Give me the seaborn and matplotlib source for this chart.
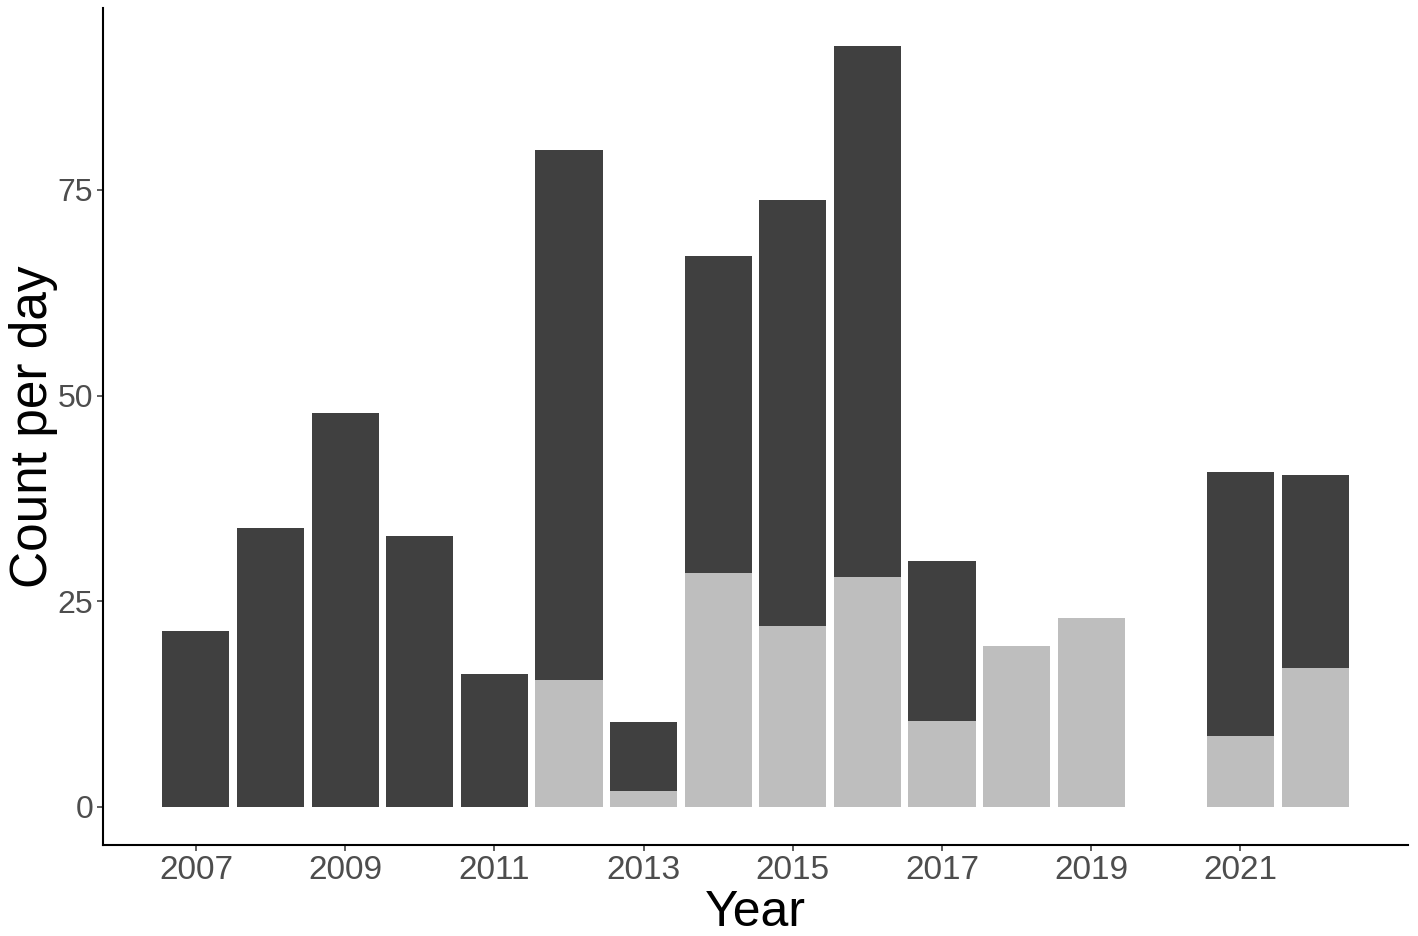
import pandas as pd
import matplotlib
matplotlib.use("Agg")
import matplotlib.pyplot as plt
import seaborn as sns

# Values
years = [2007, 2008, 2009, 2010, 2011, 2012, 2013, 2014, 2015, 2016, 2017, 2018, 2019, 2021, 2022]
total = [21.4, 33.9, 47.9, 32.9, 16.1, 79.9, 10.3, 66.9, 73.8, 92.5, 29.9, 19.5, 22.9, 40.7, 40.3]
lower = [0, 0, 0, 0, 0, 15.4, 1.9, 28.4, 22.0, 27.9, 10.4, 19.5, 22.9, 8.6, 16.9]

df = pd.DataFrame({"Year": years, "total": total, "lower": lower})

sns.set_style("white")
plt.rcParams["font.family"] = ["Liberation Sans", "DejaVu Sans"]

fig = plt.figure(figsize=(14.18, 9.36), dpi=100)
ax = fig.add_axes([103 / 1418, 91 / 936, 1305 / 1418, 837 / 936])

# dark bar = full height, light bar drawn over the lower part
sns.barplot(data=df, x="Year", y="total", native_scale=True, width=0.9,
            color="#404040", saturation=1, ax=ax, linewidth=0)
sns.barplot(data=df, x="Year", y="lower", native_scale=True, width=0.9,
            color="#BEBEBE", saturation=1, ax=ax, linewidth=0)

ax.set_xlim(2005.755, 2023.245)
ax.set_ylim(-4.63, 97.1)
ax.set_xticks([2007, 2009, 2011, 2013, 2015, 2017, 2019, 2021])
ax.set_yticks([0, 25, 50, 75])

sns.despine(ax=ax)
for s in ["left", "bottom"]:
    ax.spines[s].set_color("black")
    ax.spines[s].set_linewidth(1.5)

ax.tick_params(axis="both", which="major", length=4, width=1.1, color="#333333",
               labelcolor="#4D4D4D", pad=3, bottom=True, left=True)
ax.tick_params(axis="x", labelsize=24)
ax.tick_params(axis="y", labelsize=23)

ax.set_xlabel("Year", fontsize=36, color="black", labelpad=3)
ax.set_ylabel("Count per day", fontsize=37, color="black", labelpad=0)

fig.savefig("out.png", dpi=100)
